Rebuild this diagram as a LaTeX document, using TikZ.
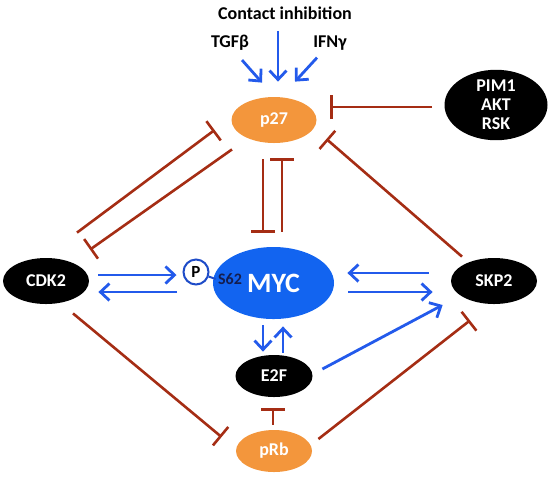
\documentclass[tikz,border=0pt]{standalone}
\usepackage{fontspec}
\setmainfont{Carlito}
\usepackage{tikz}
\usetikzlibrary{arrows.meta,shapes.geometric,calc}
\definecolor{mycblue}{RGB}{18,100,240}
\definecolor{arrowblue}{RGB}{35,90,235}
\definecolor{inhred}{RGB}{165,45,20}
\definecolor{softorange}{RGB}{243,150,60}
\definecolor{darknavy}{RGB}{20,30,80}
\tikzset{
  gene/.style={ellipse, fill=black, text=white, inner sep=0pt, font=\bfseries\fontsize{9}{10}\selectfont,
               minimum width=43pt, minimum height=23pt, align=center},
  geneorange/.style={gene, fill=softorange},
  signal/.style={font=\bfseries\fontsize{9}{10}\selectfont, inner sep=1pt},
  activate/.style={-{Straight Barb[length=4.5pt,width=8.5pt]}, line width=1.4pt, arrowblue},
  inhibit/.style={-{Bar[width=12pt]}, line width=1.3pt, inhred},
}
\begin{document}
\begin{tikzpicture}[x=0.5pt, y=-0.5pt]
\useasboundingbox (0,0) rectangle (550,479);
\node[signal] (contact) at (285,13) {Contact inhibition};
\node[signal] (tgfb) at (230,43) {TGFβ};
\node[signal] (ifng) at (330,43) {IFNγ};
\node[geneorange, minimum width=42.5pt] (p27) at (274,120) {p27};
\node[gene, minimum width=51.5pt, minimum height=28.5pt, font=\bfseries\fontsize{9}{9.5}\selectfont] (pim) at (496,105) {PIM1\\AKT\\RSK};
\node[ellipse, fill=mycblue, text=white, inner sep=0pt, minimum width=60.5pt, minimum height=36pt,
      font=\bfseries\fontsize{14}{15}\selectfont] (myc) at (273.5,283) {MYC};
\node[circle, draw=arrowblue!85!black, line width=1pt, fill=white, inner sep=0pt, minimum size=12.5pt,
      font=\bfseries\fontsize{8.5}{9}\selectfont] (p) at (196,272) {P};
\node[signal, text=darknavy, font=\bfseries\fontsize{8}{9}\selectfont] (s62) at (230,279) {S62};
\draw[arrowblue!85!black, line width=1pt] (p) -- (s62.west);
\node[gene] (cdk2) at (46,281) {CDK2};
\node[gene] (skp2) at (494,281) {SKP2};
\node[gene, minimum width=38.5pt, minimum height=21pt] (e2f) at (274,376) {E2F};
\node[geneorange, minimum width=38pt, minimum height=21pt] (prb) at (274,451) {pRb};

\draw[activate] ([xshift=-3.5pt,yshift=-4.5pt]contact.south) -- ([xshift=2pt,yshift=7.5pt]p27.north);
\draw[activate] ([xshift=6pt,yshift=-3.5pt]tgfb.south) -- ([xshift=-6pt,yshift=7pt]p27.north);
\draw[activate] ([xshift=-6.5pt,yshift=-2.5pt]ifng.south) -- ([xshift=10.5pt,yshift=7.5pt]p27.north);

\draw[inhibit] ([xshift=-6pt,yshift=-1pt]pim.west) -- ([xshift=6.75pt,yshift=6.5pt]p27.east);
\draw[inhibit] ([xshift=15.5pt,yshift=12.5pt]cdk2.north) -- ([xshift=-8.25pt,yshift=-5pt]p27.west);
\draw[inhibit] ([xshift=-21pt,yshift=-3pt]p27.south) -- ([xshift=22pt,yshift=4pt]cdk2.north);
\draw[inhibit] ([xshift=-16pt,yshift=0.5pt]skp2.north) -- ([xshift=4.75pt,yshift=-9.5pt]p27.east);
\draw[inhibit] ([xshift=-5.5pt,yshift=-8pt]p27.south) -- ([xshift=-5.25pt,yshift=7pt]myc.north);
\draw[inhibit] ([xshift=4.25pt,yshift=7.5pt]myc.north) -- ([xshift=4pt,yshift=-7.5pt]p27.south);

\draw[activate] ([xshift=4.5pt,yshift=3pt]cdk2.east) -- ([xshift=-3pt,yshift=-1.5pt]p.west);
\draw[activate] ([xshift=-17.75pt,yshift=-4.5pt]myc.west) -- ([xshift=4.5pt,yshift=-5.5pt]cdk2.east);
\draw[activate] ([xshift=-11pt,yshift=4pt]skp2.west) -- ([xshift=6.5pt,yshift=5pt]myc.east);
\draw[activate] ([xshift=7pt,yshift=-4.5pt]myc.east) -- ([xshift=-9pt,yshift=-5.5pt]skp2.west);
\draw[activate] ([xshift=-5.25pt,yshift=-3pt]myc.south) -- ([xshift=-5.5pt,yshift=1.5pt]e2f.north);
\draw[activate] ([xshift=4.5pt,yshift=1pt]e2f.north) -- ([xshift=4.75pt,yshift=-3.5pt]myc.south);
\draw[activate] ([xshift=4.75pt,yshift=3.5pt]e2f.east) -- ([xshift=-4pt,yshift=-12pt]skp2.west);

\draw[inhibit] ([xshift=-0.5pt,yshift=2.5pt]prb.north) -- ([xshift=-0.5pt,yshift=-5.5pt]e2f.south);
\draw[inhibit] ([xshift=13.5pt,yshift=-4.5pt]cdk2.south) -- ([xshift=-7pt,yshift=7pt]prb.west);
\draw[inhibit] ([xshift=3pt,yshift=6pt]prb.east) -- ([xshift=-12pt,yshift=-8pt]skp2.south);
\end{tikzpicture}
\end{document}
